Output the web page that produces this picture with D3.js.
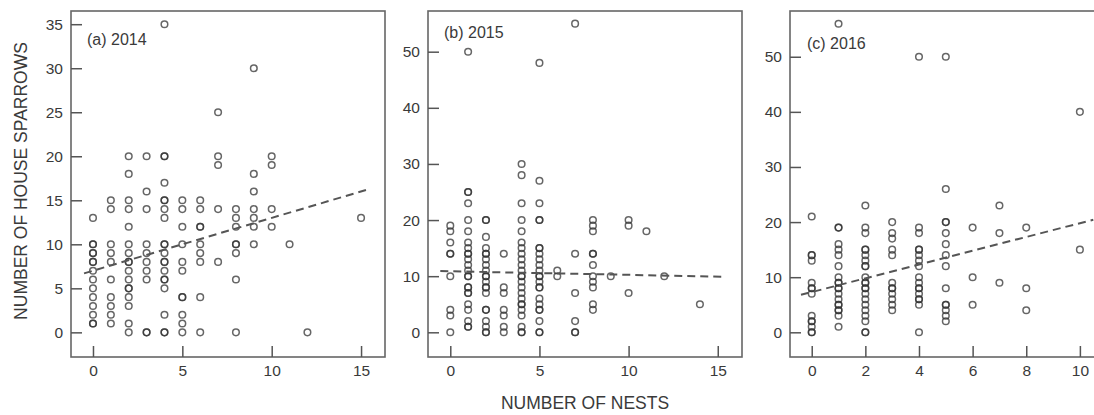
<!DOCTYPE html>
<html>
<head>
<meta charset="utf-8">
<script src="https://cdn.jsdelivr.net/npm/d3@7"></script>
<style>
body { margin: 0; background: #fff; }
svg { display: block; font-family: "Liberation Sans", Arial, sans-serif; }
.tick text { fill: #3a3a3a; font-size: 15.5px; }
.tick line { stroke: #555; stroke-width: 1.5; }
</style>
</head>
<body>
<svg id="chart" width="1094" height="415"></svg>
<script>
// Sparrow counts per site, grouped by number of nests
var nests2014 = [0, 1, 2, 3, 4, 5, 6, 7, 8, 9, 10, 11, 12, 15];
var sparrows2014 = [
  [13,10,10,9,9,8,8,7,6,5,4,3,2,1,1],
  [15,14,10,9,8,6,4,3,2,1],
  [20,18,15,14,12,10,9,8,8,7,6,5,5,4,3,1,0],
  [20,16,14,10,9,8,7,6,0,0],
  [35,20,20,17,15,15,14,13,10,10,9,8,8,7,6,6,5,2,0,0],
  [15,14,12,10,8,7,4,4,2,1,0],
  [15,14,12,12,10,9,8,4,0],
  [25,20,19,14,8],
  [14,13,12,10,10,9,6,0],
  [30,18,16,14,13,12,10],
  [20,19,14,12],
  [10],
  [0],
  [13]
];

var nests2015 = [0, 1, 2, 3, 4, 5, 6, 7, 8, 9, 10, 11, 12, 14];
var sparrows2015 = [
  [19,18,16,14,14,10,4,3,0],
  [50,25,25,23,20,18,16,15,14,14,13,12,11,10,10,8,8,7,7,5,4,2,1,1],
  [20,20,17,15,14,14,13,12,11,10,10,9,8,8,7,4,4,2,1,0,0],
  [14,8,7,4,3,1,0],
  [30,28,23,20,18,16,15,14,13,12,11,10,10,9,8,7,6,5,5,4,3,1,0,0],
  [48,27,23,20,20,15,15,14,13,12,11,10,10,9,8,8,6,5,4,4,2,0,0],
  [11,10],
  [55,14,7,2,0,0],
  [20,19,18,14,14,12,10,9,8,5,4],
  [10],
  [20,19,7],
  [18],
  [10],
  [5]
];

var nests2016 = [0, 1, 2, 3, 4, 5, 6, 7, 8, 10];
var sparrows2016 = [
  [21,14,14,13,9,8,8,7,3,2,2,1,0,0],
  [56,19,19,16,15,14,12,10,9,9,8,8,7,6,5,5,4,4,3,1],
  [23,19,18,15,15,14,13,12,12,10,9,9,8,8,7,6,5,4,3,2,0,0],
  [20,18,17,15,14,9,8,8,7,6,5,4],
  [50,19,18,15,15,14,13,12,10,9,8,8,7,6,6,5,0],
  [50,26,20,20,18,16,14,12,8,5,5,4,3,2],
  [19,10,5],
  [23,18,9],
  [19,8,4],
  [40,15]
];

// fitted lines: intercept, slope and the x span they are drawn over
var trendIntercept = [7.0, 10.87, 7.3];
var trendSlope = [0.6, -0.063, 1.25];
var trendSpan = [[-0.5, 15.3], [-0.56, 15.3], [-0.4, 10.5]];

// tick values
var xTicksAB = [0, 5, 10, 15];
var xTicksC = [0, 2, 4, 6, 8, 10];
var yTicksA = [0, 5, 10, 15, 20, 25, 30, 35];
var yTicksBC = [0, 10, 20, 30, 40, 50];

var panelLabels = ["(a) 2014", "(b) 2015", "(c) 2016"];

var svg = d3.select("#chart");
var top_ = 11, bottom = 357;

var panels = [
  {nests: nests2014, counts: sparrows2014, xt: xTicksAB, yt: yTicksA,
   left: 71, right: 385, xDom: [-1.23, 16.34], yDom: [-2.8, 36.5], lab: [87, 45]},
  {nests: nests2015, counts: sparrows2015, xt: xTicksAB, yt: yTicksBC,
   left: 428, right: 742, xDom: [-1.25, 16.36], yDom: [-4.4, 57.25], lab: [444, 38]},
  {nests: nests2016, counts: sparrows2016, xt: xTicksC, yt: yTicksBC,
   left: 790, right: 1100, xDom: [-0.81, 10.75], yDom: [-4.48, 58.3], lab: [807, 49]}
];

panels.forEach(function(p, k) {
  var x = d3.scaleLinear().domain(p.xDom).range([p.left, p.right]);
  var y = d3.scaleLinear().domain(p.yDom).range([bottom, top_]);

  var pts = [];
  p.nests.forEach(function(n, i) {
    p.counts[i].forEach(function(v) { pts.push({x: n, y: v}); });
  });

  var g = svg.append("g");

  g.append("rect")
    .attr("x", p.left).attr("y", top_)
    .attr("width", p.right - p.left).attr("height", bottom - top_)
    .attr("fill", "none").attr("stroke", "#666").attr("stroke-width", 1.6);

  g.append("g")
    .attr("transform", "translate(0," + bottom + ")")
    .call(d3.axisBottom(x).tickValues(p.xt).tickSize(-11).tickPadding(8))
    .call(function(a) { a.select(".domain").remove(); });

  g.append("g")
    .attr("transform", "translate(" + p.left + ",0)")
    .call(d3.axisLeft(y).tickValues(p.yt).tickSize(-11).tickPadding(8))
    .call(function(a) { a.select(".domain").remove(); });

  g.append("g").selectAll("circle")
    .data(pts)
    .enter().append("circle")
      .attr("cx", function(d) { return x(d.x); })
      .attr("cy", function(d) { return y(d.y); })
      .attr("r", 3.3)
      .attr("fill", "none")
      .attr("stroke", "#333")
      .attr("stroke-opacity", 0.75)
      .attr("stroke-width", 1.5);

  var span = trendSpan[k];
  var line = d3.line()
    .x(function(d) { return x(d); })
    .y(function(d) { return y(trendIntercept[k] + trendSlope[k] * d); });
  g.append("path")
    .datum(span)
    .attr("d", line)
    .attr("fill", "none")
    .attr("stroke", "#555")
    .attr("stroke-width", 2)
    .attr("stroke-dasharray", "8,5");

  g.append("text")
    .attr("x", p.lab[0]).attr("y", p.lab[1])
    .attr("fill", "#3a3a3a").attr("font-size", 16)
    .text(panelLabels[k]);
});

svg.append("text")
  .attr("transform", "translate(27,181) rotate(-90)")
  .attr("text-anchor", "middle")
  .attr("fill", "#3a3a3a").attr("font-size", 17.5)
  .text("NUMBER OF HOUSE SPARROWS");

svg.append("text")
  .attr("x", 585).attr("y", 409)
  .attr("text-anchor", "middle")
  .attr("fill", "#3a3a3a").attr("font-size", 17.5)
  .text("NUMBER OF NESTS");
</script>
</body>
</html>
